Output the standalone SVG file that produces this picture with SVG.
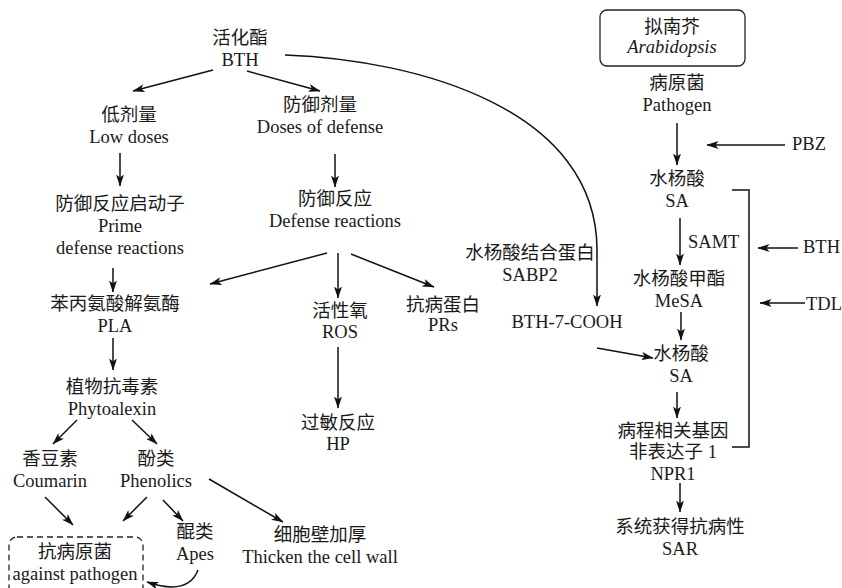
<svg xmlns="http://www.w3.org/2000/svg" width="842" height="588" viewBox="0 0 842 588">
<style>
text{font-family:"Liberation Serif","Noto Sans CJK SC",serif;font-size:18.5px;fill:#1a1a1a;text-anchor:middle}
.s{text-anchor:start}
.i{font-style:italic}
.c{fill:none;stroke:#111;stroke-width:1.5}
.a{marker-end:url(#ah)}
.box{fill:none;stroke:#222;stroke-width:1.3}
</style>
<defs>
<marker id="ah" viewBox="0 0 12 8" refX="11.5" refY="4" markerWidth="12" markerHeight="8" orient="auto" markerUnits="userSpaceOnUse">
<path d="M0,0 L12,4 L0,8 L3,4 z" fill="#111"/>
</marker>
</defs>
<rect width="842" height="588" fill="#fff"/>
<g id="connectors">
<path class="c a" d="M213,70 L133,91"/>
<path class="c a" d="M247,71 L320,91"/>
<path class="c a" d="M120,153 L120,186"/>
<path class="c a" d="M335,154 L335,187"/>
<path class="c a" d="M113,268 L113,292"/>
<path class="c a" d="M113,338 L113,370"/>
<path class="c a" d="M327,253 L210,284"/>
<path class="c a" d="M338,253 L338,298"/>
<path class="c a" d="M351,254 L434,287"/>
<path class="c a" d="M338,347 L338,408"/>
<path class="c a" d="M77,420 L53,444"/>
<path class="c a" d="M132,420 L157,444"/>
<path class="c a" d="M45,497 L73,525"/>
<path class="c a" d="M147,497 L123,521"/>
<path class="c a" d="M163,500 L183,521"/>
<path class="c a" d="M209,479 L283,522"/>
<path class="c a" d="M198,570 Q188,596 147,582"/>
<path class="c a" d="M285,55 C420,60 597,110 597,250 L597,306"/>
<path class="c a" d="M597,348 L653,358"/>
<path class="c a" d="M677,123 L677,165"/>
<path class="c a" d="M785,145 L707,145"/>
<path class="c a" d="M680,218 L680,265"/>
<path class="c a" d="M798,248 L758,248"/>
<path class="c a" d="M805,303 L760,303"/>
<path class="c a" d="M681,312 L681,340"/>
<path class="c a" d="M677,392 L677,418"/>
<path class="c a" d="M680,483 L680,512"/>
<path class="c" d="M732,190 L749,190 L749,447 L732,447"/>
</g>
<g id="n-bth"><text x="240" y="44">活化酯</text><text x="240" y="66">BTH</text></g>
<g id="n-low"><text x="129" y="121">低剂量</text><text x="129" y="143">Low doses</text></g>
<g id="n-doses"><text x="320" y="111">防御剂量</text><text x="320" y="133">Doses of defense</text></g>
<g id="n-prime"><text x="120" y="210">防御反应启动子</text><text x="120" y="232">Prime</text><text x="120" y="254">defense reactions</text></g>
<g id="n-defr"><text x="335" y="205">防御反应</text><text x="335" y="227">Defense reactions</text></g>
<g id="n-pla"><text x="115" y="310">苯丙氨酸解氨酶</text><text x="115" y="332">PLA</text></g>
<g id="n-phyto"><text x="112" y="393">植物抗毒素</text><text x="112" y="415">Phytoalexin</text></g>
<g id="n-ros"><text x="340" y="317">活性氧</text><text x="340" y="338">ROS</text></g>
<g id="n-prs"><text x="443" y="311">抗病蛋白</text><text x="443" y="331">PRs</text></g>
<g id="n-hp"><text x="338" y="429">过敏反应</text><text x="338" y="450">HP</text></g>
<g id="n-sabp2"><text x="530" y="259">水杨酸结合蛋白</text><text x="530" y="281">SABP2</text></g>
<g id="n-cooh"><text x="567" y="328">BTH-7-COOH</text></g>
<g id="n-coumarin"><text x="50" y="465">香豆素</text><text x="50" y="487">Coumarin</text></g>
<g id="n-phenolics"><text x="156" y="465">酚类</text><text x="156" y="487">Phenolics</text></g>
<g id="n-apes"><text x="195" y="538">醌类</text><text x="195" y="560">Apes</text></g>
<g id="n-wall"><text x="320" y="541">细胞壁加厚</text><text x="320" y="563">Thicken the cell wall</text></g>
<g id="n-against"><rect class="box" x="9" y="537" width="134" height="62" rx="8" stroke-dasharray="6,4"/><text x="75" y="558">抗病原菌</text><text x="75" y="580">against pathogen</text></g>
<g id="n-arab"><rect class="box" x="600" y="10" width="145" height="56" rx="7"/><text x="672" y="33">拟南芥</text><text class="i" x="672" y="53">Arabidopsis</text></g>
<g id="n-pathogen"><text x="677" y="89">病原菌</text><text x="677" y="111">Pathogen</text></g>
<g id="n-pbz"><text class="s" x="792" y="150">PBZ</text></g>
<g id="n-sa1"><text x="677" y="185">水杨酸</text><text x="677" y="207">SA</text></g>
<g id="n-samt"><text class="s" x="688" y="248">SAMT</text></g>
<g id="n-bth2"><text class="s" x="803" y="253">BTH</text></g>
<g id="n-mesa"><text x="679" y="285">水杨酸甲酯</text><text x="679" y="307">MeSA</text></g>
<g id="n-tdl"><text class="s" x="806" y="310">TDL</text></g>
<g id="n-sa2"><text x="681" y="360">水杨酸</text><text x="681" y="382">SA</text></g>
<g id="n-npr1"><text x="673" y="437">病程相关基因</text><text x="673" y="458">非表达子 1</text><text x="673" y="480">NPR1</text></g>
<g id="n-sar"><text x="680" y="533">系统获得抗病性</text><text x="680" y="555">SAR</text></g>
</svg>
